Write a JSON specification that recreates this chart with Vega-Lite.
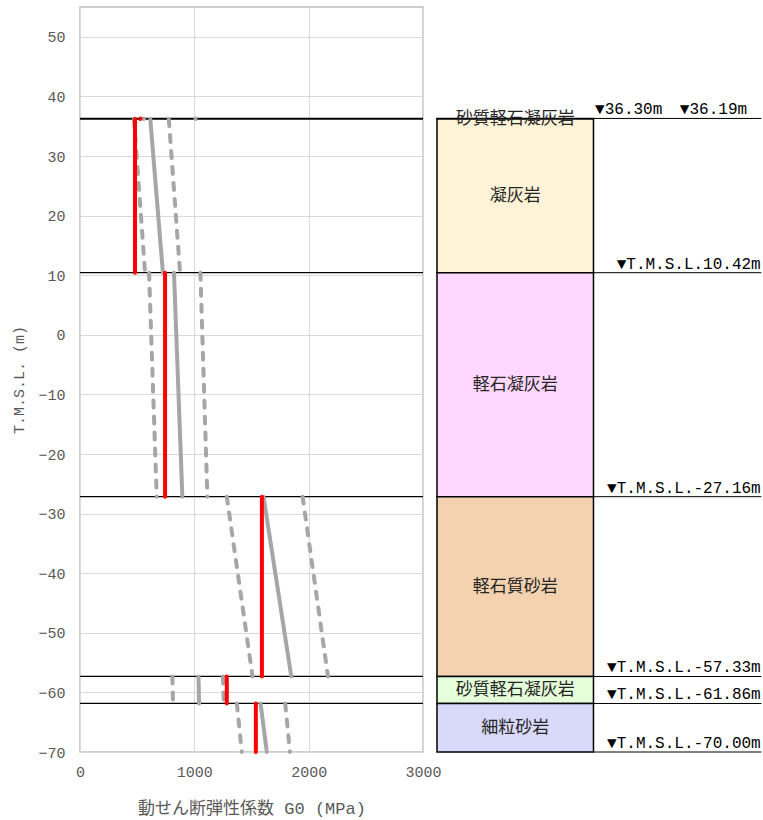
{
  "$schema": "https://vega.github.io/schema/vega-lite/v6.json",
  "autosize": {"type": "pad"},
  "padding": {"left": 11, "top": 6, "right": 0, "bottom": 0},
  "bounds": "flush",
  "spacing": 14,
  "background": "white",
  "config": {
    "font": "Liberation Mono",
    "view": {"stroke": "#BFBFBF", "strokeWidth": 1.5},
    "axis": {
      "grid": true, "gridColor": "#D9D9D9", "gridWidth": 1,
      "ticks": false, "domain": false, "labelFlush": false,
      "labelFont": "Liberation Mono", "labelFontSize": 15, "labelColor": "#595959",
      "titleColor": "#595959", "titleFontWeight": "normal"
    }
  },
  "datasets": {
    "segs": [
      {"kind": "boundary", "g": 0, "g2": 3000, "depth": 36.30, "depth2": 36.30},
      {"kind": "boundary", "g": 0, "g2": 3000, "depth": 36.19, "depth2": 36.19},
      {"kind": "boundary", "g": 0, "g2": 3000, "depth": 10.42, "depth2": 10.42},
      {"kind": "boundary", "g": 0, "g2": 3000, "depth": -27.16, "depth2": -27.16},
      {"kind": "boundary", "g": 0, "g2": 3000, "depth": -57.33, "depth2": -57.33},
      {"kind": "boundary", "g": 0, "g2": 3000, "depth": -61.86, "depth2": -61.86},
      {"kind": "dash", "g": 1010, "g2": 1010, "depth": 36.30, "depth2": 36.19},
      {"kind": "dash", "g": 472, "g2": 569, "depth": 36.19, "depth2": 10.42},
      {"kind": "dash", "g": 777, "g2": 875, "depth": 36.19, "depth2": 10.42},
      {"kind": "dash", "g": 604, "g2": 671, "depth": 10.42, "depth2": -27.16},
      {"kind": "dash", "g": 1053, "g2": 1114, "depth": 10.42, "depth2": -27.16},
      {"kind": "dash", "g": 1284, "g2": 1509, "depth": -27.16, "depth2": -57.33},
      {"kind": "dash", "g": 1947, "g2": 2169, "depth": -27.16, "depth2": -57.33},
      {"kind": "dash", "g": 808, "g2": 814, "depth": -57.33, "depth2": -61.86},
      {"kind": "dash", "g": 1249, "g2": 1258, "depth": -57.33, "depth2": -61.86},
      {"kind": "dash", "g": 1372, "g2": 1415, "depth": -61.86, "depth2": -70},
      {"kind": "dash", "g": 1795, "g2": 1836, "depth": -61.86, "depth2": -70},
      {"kind": "solid", "g": 560, "g2": 560, "depth": 36.30, "depth2": 36.19},
      {"kind": "solid", "g": 615, "g2": 725, "depth": 36.19, "depth2": 10.42},
      {"kind": "solid", "g": 822, "g2": 895, "depth": 10.42, "depth2": -27.16},
      {"kind": "solid", "g": 1605, "g2": 1848, "depth": -27.16, "depth2": -57.33},
      {"kind": "solid", "g": 1036, "g2": 1042, "depth": -57.33, "depth2": -61.86},
      {"kind": "solid", "g": 1579, "g2": 1634, "depth": -61.86, "depth2": -70},
      {"kind": "red", "g": 528, "g2": 528, "depth": 36.30, "depth2": 36.19},
      {"kind": "red", "g": 481, "g2": 481, "depth": 36.19, "depth2": 10.42},
      {"kind": "red", "g": 744, "g2": 744, "depth": 10.42, "depth2": -27.16},
      {"kind": "red", "g": 1591, "g2": 1591, "depth": -27.16, "depth2": -57.33},
      {"kind": "red", "g": 1284, "g2": 1284, "depth": -57.33, "depth2": -61.86},
      {"kind": "red", "g": 1538, "g2": 1538, "depth": -61.86, "depth2": -70}
    ],
    "levelText": [
      {"text": "36.30", "depth": 36.30, "pos": "above"},
      {"text": "36.19", "depth": 36.19, "pos": "below"},
      {"text": "10.42", "depth": 10.42, "pos": "above"},
      {"text": "-27.16", "depth": -27.16, "pos": "above"},
      {"text": "-57.33", "depth": -57.33, "pos": "above"},
      {"text": "-61.86", "depth": -61.86, "pos": "above"}
    ],
    "strata": [
      {"rock": "砂質軽石凝灰岩", "top": 36.30, "bottom": 36.19},
      {"rock": "凝灰岩", "top": 36.19, "bottom": 10.42},
      {"rock": "軽石凝灰岩", "top": 10.42, "bottom": -27.16},
      {"rock": "軽石質砂岩", "top": -27.16, "bottom": -57.33},
      {"rock": "砂質軽石凝灰岩", "top": -57.33, "bottom": -61.86},
      {"rock": "細粒砂岩", "top": -61.86, "bottom": -70}
    ],
    "marks": [
      {"label": "▼36.30m", "depth": 36.30, "slot": "a"},
      {"label": "▼36.19m", "depth": 36.30, "slot": "b"},
      {"label": "▼T.M.S.L.10.42m", "depth": 10.42, "slot": "r"},
      {"label": "▼T.M.S.L.-27.16m", "depth": -27.16, "slot": "r"},
      {"label": "▼T.M.S.L.-57.33m", "depth": -57.33, "slot": "r"},
      {"label": "▼T.M.S.L.-61.86m", "depth": -61.86, "slot": "r"},
      {"label": "▼T.M.S.L.-70.00m", "depth": -70, "slot": "r"}
    ]
  },
  "hconcat": [
    {
      "width": 343,
      "height": 745,
      "encoding": {
        "x": {"field": "g", "type": "quantitative",
              "scale": {"domain": [0, 3000], "nice": false, "zero": false},
              "axis": {"values": [0, 1000, 2000, 3000], "format": "d", "labelPadding": 12, "titlePadding": 21,
                       "title": "動せん断弾性係数 G0 (MPa)", "titleFont": "Liberation Mono, Noto Sans CJK JP", "titleFontSize": 17}},
        "y": {"field": "depth", "type": "quantitative",
              "scale": {"domain": [-70, 55], "nice": false, "zero": false},
              "axis": {"values": [-70, -60, -50, -40, -30, -20, -10, 0, 10, 20, 30, 40, 50], "labelPadding": 15, "titlePadding": 11,
                       "title": "T.M.S.L. (m)", "titleFont": "Liberation Mono", "titleFontSize": 15}}
      },
      "layer": [
        {
          "data": {"name": "segs"},
          "transform": [{"filter": "datum.kind === 'boundary'"}],
          "mark": {"type": "rule", "color": "#000000", "strokeWidth": 1.25},
          "encoding": {"x2": {"field": "g2"}, "y2": {"field": "depth2"}}
        },
        {
          "data": {"name": "segs"},
          "transform": [{"filter": "datum.kind === 'dash'"}],
          "mark": {"type": "rule", "color": "#A6A6A6", "strokeWidth": 4, "strokeDash": [7, 9], "strokeCap": "round"},
          "encoding": {"x2": {"field": "g2"}, "y2": {"field": "depth2"}}
        },
        {
          "data": {"name": "segs"},
          "transform": [{"filter": "datum.kind === 'solid'"}],
          "mark": {"type": "rule", "color": "#A6A6A6", "strokeWidth": 4, "strokeCap": "round"},
          "encoding": {"x2": {"field": "g2"}, "y2": {"field": "depth2"}}
        },
        {
          "data": {"name": "segs"},
          "transform": [{"filter": "datum.kind === 'red'"}],
          "mark": {"type": "rule", "color": "#FF0000", "strokeWidth": 4, "strokeCap": "round"},
          "encoding": {"x2": {"field": "g2"}, "y2": {"field": "depth2"}}
        },
        {
          "data": {"name": "levelText"},
          "transform": [{"filter": "datum.pos === 'above'"}],
          "mark": {"type": "text", "align": "right", "baseline": "bottom", "dy": -4, "font": "Liberation Mono", "fontSize": 15, "color": "#595959"},
          "encoding": {"x": {"datum": 2935}, "text": {"field": "text"}}
        },
        {
          "data": {"name": "levelText"},
          "transform": [{"filter": "datum.pos === 'below'"}],
          "mark": {"type": "text", "align": "right", "baseline": "top", "dy": 2, "font": "Liberation Mono", "fontSize": 15, "color": "#595959"},
          "encoding": {"x": {"datum": 2935}, "text": {"field": "text"}}
        },
        {
          "data": {"values": [{"text": "▼CA基礎底面", "depth": 36.30}]},
          "mark": {"type": "text", "align": "left", "baseline": "bottom", "dy": -1, "font": "Liberation Mono, Noto Sans CJK JP", "fontSize": 17, "color": "#000000"},
          "encoding": {"x": {"datum": 15}, "text": {"field": "text"}}
        }
      ]
    },
    {
      "width": 326,
      "height": 745,
      "view": {"stroke": null},
      "encoding": {
        "y": {"type": "quantitative", "scale": {"domain": [-70, 55], "nice": false, "zero": false}, "axis": null},
        "x": {"type": "quantitative", "scale": {"domain": [0, 100], "nice": false, "zero": false}, "axis": null}
      },
      "layer": [
        {
          "data": {"name": "strata"},
          "mark": {"type": "rect", "stroke": "#000000", "strokeWidth": 1.5},
          "encoding": {
            "x": {"datum": 0},
            "x2": {"datum": 48},
            "y": {"field": "top", "type": "quantitative"},
            "y2": {"field": "bottom"},
            "fill": {"field": "rock", "type": "nominal", "legend": null,
                     "scale": {"domain": ["砂質軽石凝灰岩", "凝灰岩", "軽石凝灰岩", "軽石質砂岩", "細粒砂岩"],
                               "range": ["#E4FFDA", "#FFF3D7", "#FFD7FF", "#F4D2AF", "#D9D9FC"]}}
          }
        },
        {
          "data": {"name": "strata"},
          "transform": [{"calculate": "(datum.top + datum.bottom) / 2", "as": "mid"}],
          "mark": {"type": "text", "align": "center", "baseline": "middle", "font": "Noto Sans CJK JP", "fontSize": 17, "color": "#262626"},
          "encoding": {
            "x": {"datum": 24},
            "y": {"field": "mid", "type": "quantitative"},
            "text": {"field": "rock"}
          }
        },
        {
          "data": {"name": "marks"},
          "transform": [{"filter": "datum.slot !== 'b'"}],
          "mark": {"type": "rule", "color": "#000000", "strokeWidth": 1},
          "encoding": {
            "x": {"datum": 48},
            "x2": {"datum": 99.5},
            "y": {"field": "depth", "type": "quantitative"}
          }
        },
        {
          "data": {"name": "marks"},
          "transform": [{"filter": "datum.slot === 'r'"}],
          "mark": {"type": "text", "align": "right", "baseline": "bottom", "dy": -1, "font": "Liberation Mono", "fontSize": 16, "color": "#000000"},
          "encoding": {
            "x": {"datum": 99.3},
            "y": {"field": "depth", "type": "quantitative"},
            "text": {"field": "label"}
          }
        },
        {
          "data": {"name": "marks"},
          "transform": [{"filter": "datum.slot === 'a'"}],
          "mark": {"type": "text", "align": "left", "baseline": "bottom", "dy": -1, "font": "Liberation Mono", "fontSize": 16, "color": "#000000"},
          "encoding": {
            "x": {"datum": 48.5},
            "y": {"field": "depth", "type": "quantitative"},
            "text": {"field": "label"}
          }
        },
        {
          "data": {"name": "marks"},
          "transform": [{"filter": "datum.slot === 'b'"}],
          "mark": {"type": "text", "align": "left", "baseline": "bottom", "dy": -1, "font": "Liberation Mono", "fontSize": 16, "color": "#000000"},
          "encoding": {
            "x": {"datum": 74.5},
            "y": {"field": "depth", "type": "quantitative"},
            "text": {"field": "label"}
          }
        }
      ]
    }
  ]
}
